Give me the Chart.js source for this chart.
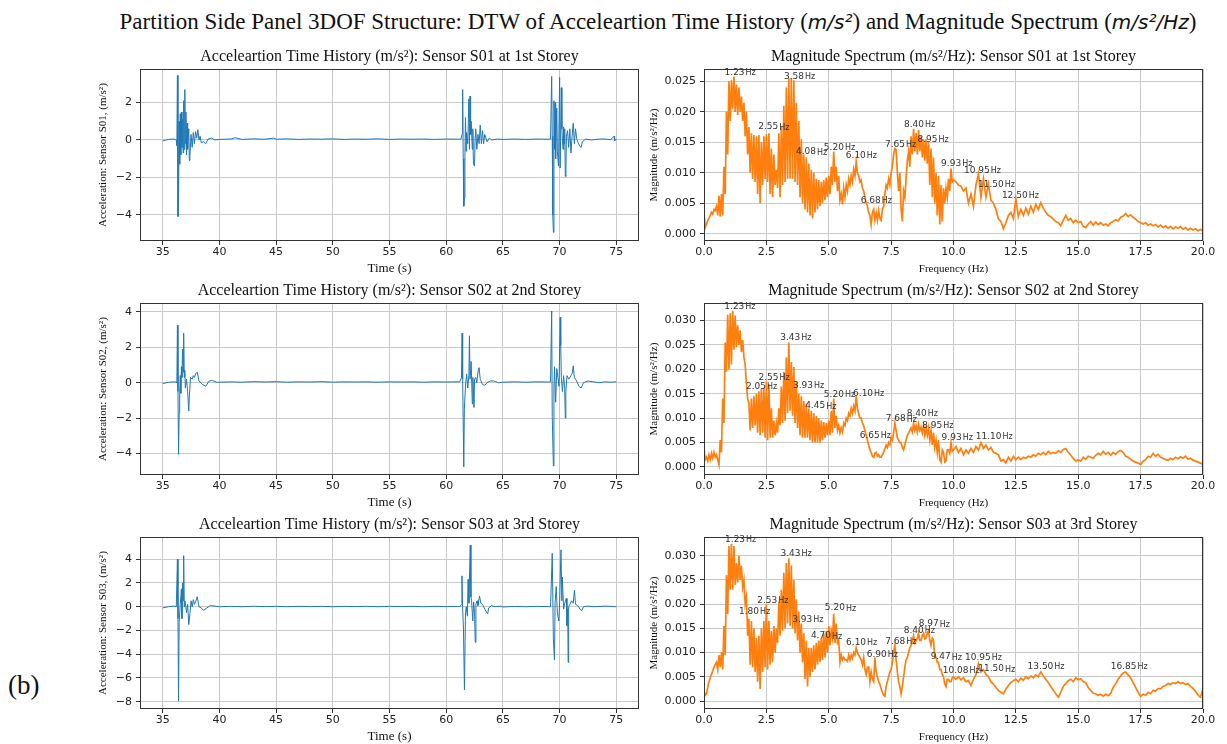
<!DOCTYPE html>
<html>
<head>
<meta charset="utf-8">
<title>Partition Side Panel 3DOF Structure</title>
<script src="https://cdn.jsdelivr.net/npm/chart.js@4.4.1/dist/chart.umd.min.js"></script>
<style>
  body { margin: 0; width: 1227px; height: 744px; background: #fff; position: relative; overflow: hidden; }
  canvas { position: absolute; }
  #suptitle { position: absolute; left: 0; top: 8px; width: 1316px; text-align: center; white-space: nowrap;
    font: 23px "Liberation Serif", serif; color: #111; line-height: 28px; }
  #suptitle i { font-family: "DejaVu Sans", sans-serif; font-size: 20px; }
  #tag { position: absolute; left: 8px; top: 670px; font: 27px "Liberation Serif", serif; color: #111; }
</style>
</head>
<body>
<div id="suptitle">Partition Side Panel 3DOF Structure: DTW of Acceleartion Time History (<i>m/s²</i>) and Magnitude Spectrum (<i>m/s²/Hz</i>)</div>
<div id="tag">(b)</div>
<script>
// 🔹 Tick labels
const timeTicks = [35, 40, 45, 50, 55, 60, 65, 70, 75];
const freqTicks = [0, 2.5, 5, 7.5, 10, 12.5, 15, 17.5, 20];
const accTicksS01 = [-4, -2, 0, 2];
const accTicksS02 = [-4, -2, 0, 2, 4];
const accTicksS03 = [-8, -6, -4, -2, 0, 2, 4];
const magTicksS01 = [0, 0.005, 0.01, 0.015, 0.02, 0.025];
const magTicksS02 = [0, 0.005, 0.01, 0.015, 0.02, 0.025, 0.03];
const magTicksS03 = [0, 0.005, 0.01, 0.015, 0.02, 0.025, 0.03];

// 🔹 Acceleration time history [time (s), acceleration (m/s²)]
const accS01 = [
  [35.0,-0.05],[35.5,0.03],[36.0,0.05],[36.2,0.0],[36.25,-0.3],[36.3,3.45],[36.35,-4.1],[36.4,-3.4],[36.45,1.0],[36.5,-1.3],
  [36.55,1.4],[36.6,-0.8],[36.65,1.5],[36.7,-0.4],[36.75,1.1],[36.8,-0.7],[36.85,2.1],[36.9,-0.5],[36.95,2.7],[37.0,-0.2],
  [37.05,1.5],[37.1,-0.8],[37.15,0.9],[37.2,-0.5],[37.3,0.6],[37.35,-1.1],[37.4,-0.9],[37.5,0.3],[37.6,-0.4],[37.7,0.4],
  [37.8,-0.2],[37.9,0.45],[38.0,0.1],[38.1,0.55],[38.2,0.0],[38.3,0.2],[38.4,-0.15],[38.6,-0.1],[38.8,-0.2],[39.0,0.05],
  [39.3,0.1],[39.6,0.0],[40.0,0.03],[41.0,0.05],[41.4,0.12],[42.0,0.03],[43.0,0.06],[44.0,0.04],[44.8,0.1],[45.0,0.04],
  [46.0,0.06],[47.0,0.03],[48.0,0.05],[49.0,0.04],[50.0,0.06],[51.0,0.03],[52.0,0.05],[53.0,0.04],[54.0,0.06],[55.0,0.03],
  [56.0,0.05],[57.0,0.04],[58.0,0.05],[59.0,0.03],[60.0,0.05],[61.0,0.04],[61.3,0.05],
  [61.4,0.3],[61.45,2.7],[61.5,-1.0],[61.55,-3.55],[61.6,-3.1],[61.65,-0.9],[61.7,1.2],[61.75,-0.6],[61.8,0.4],[61.9,-0.2],
  [62.0,2.2],[62.05,-0.5],[62.1,2.35],[62.15,0.3],[62.2,1.0],[62.3,-0.5],[62.35,0.6],[62.4,-1.3],[62.5,-1.4],[62.55,0.2],
  [62.6,0.6],[62.7,-0.5],[62.8,0.3],[62.9,-0.2],[63.0,0.8],[63.1,-0.2],[63.2,0.5],[63.3,-0.2],[63.4,0.3],[63.6,-0.1],
  [63.8,0.1],[64.0,0.0],[64.5,0.05],[65.0,0.03],[66.0,0.05],[67.0,0.03],[68.0,0.05],[69.0,0.04],[69.2,0.05],
  [69.3,3.4],[69.35,0.2],[69.4,-4.0],[69.45,-4.95],[69.5,2.1],[69.55,-0.5],[69.6,2.0],[69.65,-1.0],[69.75,1.7],[69.8,-0.6],
  [69.9,-1.4],[70.0,3.35],[70.05,-1.5],[70.15,2.8],[70.2,0.6],[70.3,-0.5],[70.35,0.7],[70.4,-0.2],[70.45,0.6],[70.5,-1.9],
  [70.55,-1.95],[70.6,0.2],[70.7,0.5],[70.8,-0.4],[70.9,0.6],[71.0,-0.7],[71.1,0.2],[71.2,0.9],[71.3,-0.2],[71.4,0.6],
  [71.5,0.1],[71.6,-0.1],[71.8,-0.35],[71.9,-0.4],[72.0,-0.1],[72.3,0.05],[72.8,0.0],[73.5,0.05],[74.0,0.05],[74.5,0.02],
  [74.8,0.2],[74.85,-0.05],[75.0,0.05]
];
const accS02 = [
  [35.0,-0.05],[35.5,0.02],[36.0,0.05],[36.2,0.03],[36.25,0.0],[36.3,3.25],[36.35,-0.5],[36.4,-4.05],[36.45,-1.7],[36.5,-0.6],
  [36.55,0.4],[36.6,-0.6],[36.65,0.9],[36.7,0.3],[36.75,1.9],[36.8,0.6],[36.85,2.8],[36.9,0.3],[36.95,0.7],[37.0,-0.3],
  [37.1,0.2],[37.2,-0.5],[37.3,-1.6],[37.35,-0.8],[37.45,0.3],[37.6,0.2],[37.7,0.4],[37.8,0.3],[37.9,0.5],[38.05,0.6],
  [38.2,0.1],[38.5,-0.1],[38.8,-0.2],[39.1,0.1],[39.4,0.12],[39.8,0.02],[40.0,0.03],[41.0,0.05],[42.0,0.03],[43.0,0.06],
  [44.0,0.04],[45.0,0.06],[46.0,0.03],[47.0,0.05],[48.0,0.04],[49.0,0.06],[50.0,0.03],[51.0,0.05],[52.0,0.04],[53.0,0.05],
  [54.0,0.03],[55.0,0.05],[56.0,0.04],[57.0,0.05],[58.0,0.03],[59.0,0.05],[60.0,0.04],[61.0,0.05],[61.2,0.05],
  [61.35,0.3],[61.4,2.8],[61.45,0.2],[61.55,-4.75],[61.6,-1.5],[61.7,-0.2],[61.8,0.5],[61.9,-0.3],[62.0,0.4],[62.05,2.65],
  [62.1,0.2],[62.2,1.2],[62.3,-1.2],[62.35,0.3],[62.45,-1.4],[62.5,0.2],[62.6,0.3],[62.7,0.0],[62.8,0.6],[62.9,0.85],
  [63.0,0.2],[63.2,-0.1],[63.4,-0.15],[63.6,0.0],[63.9,0.1],[64.2,0.1],[64.6,0.0],[65.0,0.03],[66.0,0.05],[67.0,0.03],
  [68.0,0.05],[69.0,0.04],[69.2,0.05],
  [69.3,4.05],[69.35,-1.9],[69.45,-4.7],[69.5,-0.3],[69.55,0.9],[69.65,-1.1],[69.75,0.8],[69.85,0.3],[69.95,-0.2],[70.05,3.7],
  [70.1,2.1],[70.15,0.3],[70.25,-0.5],[70.35,0.4],[70.45,-0.3],[70.5,-2.0],[70.55,-0.5],[70.65,0.4],[70.8,0.2],[71.0,0.4],
  [71.1,0.5],[71.2,0.95],[71.3,0.3],[71.5,0.1],[71.7,-0.2],[71.9,-0.3],[72.1,0.0],[72.5,0.1],[73.0,0.05],[73.5,0.0],
  [74.0,0.05],[74.5,0.03],[75.0,0.05]
];
const accS03 = [
  [35.0,-0.1],[35.5,0.0],[36.0,0.05],[36.2,0.0],[36.3,4.0],[36.35,-1.0],[36.4,-7.95],[36.45,-1.3],[36.55,0.2],[36.65,1.5],
  [36.7,-1.0],[36.75,2.0],[36.8,0.5],[36.85,4.3],[36.9,0.0],[36.95,0.5],[37.0,0.3],[37.1,-0.5],[37.2,0.2],[37.3,-1.5],
  [37.4,-0.6],[37.5,0.5],[37.6,0.0],[37.7,0.6],[37.8,0.2],[37.9,0.4],[38.05,0.85],[38.2,0.0],[38.4,-0.1],[38.6,-0.3],
  [38.9,-0.1],[39.2,0.1],[39.6,0.05],[40.0,0.0],[41.0,0.03],[42.0,0.0],[43.0,0.04],[44.0,0.01],[45.0,0.03],[46.0,0.0],
  [47.0,0.03],[48.0,0.01],[49.0,0.03],[50.0,0.0],[51.0,0.03],[52.0,0.01],[53.0,0.03],[54.0,0.0],[55.0,0.03],[56.0,0.01],
  [57.0,0.03],[58.0,0.0],[59.0,0.03],[60.0,0.01],[61.0,0.02],[61.2,0.0],
  [61.35,0.2],[61.39,2.6],[61.45,-0.2],[61.52,-1.8],[61.61,-7.0],[61.7,-0.5],[61.77,0.0],[61.87,-0.8],[61.93,2.3],[62.0,0.3],
  [62.12,5.2],[62.18,0.8],[62.24,0.5],[62.34,-1.2],[62.42,0.4],[62.5,-0.5],[62.56,-3.0],[62.62,0.2],[62.72,0.5],[62.8,0.1],
  [62.94,0.9],[63.05,0.3],[63.2,0.2],[63.4,-0.2],[63.66,-0.6],[63.75,-0.1],[64.0,0.1],[64.3,0.0],[64.8,0.05],[65.0,-0.02],
  [66.0,0.02],[67.0,0.0],[68.0,0.03],[69.0,0.01],[69.2,0.0],
  [69.35,4.5],[69.45,-2.8],[69.55,-4.5],[69.6,0.3],[69.7,1.7],[69.8,-0.5],[69.93,-1.2],[70.0,0.3],[70.12,4.8],[70.2,0.5],
  [70.24,2.5],[70.35,-0.2],[70.45,0.3],[70.59,0.7],[70.65,-1.6],[70.72,-0.2],[70.75,-4.7],[70.8,0.0],[70.95,0.3],[71.06,0.5],
  [71.2,0.3],[71.31,1.4],[71.4,0.2],[71.6,0.1],[71.8,-0.2],[71.94,-0.35],[72.1,0.0],[72.5,0.05],[73.0,0.0],[74.0,0.05],
  [75.0,0.0]
];

// 🔹 Magnitude spectrum, frequency grid (Hz): 0.05 Hz steps to 10 Hz, then 0.1 Hz
const freqHz = [
  0.00,0.05,0.10,0.15,0.20,0.25,0.30,0.35,0.40,0.45,0.50,0.55,0.60,0.65,0.70,0.75,0.80,0.85,0.90,0.95,
  1.00,1.05,1.10,1.15,1.20,1.25,1.30,1.35,1.40,1.45,1.50,1.55,1.60,1.65,1.70,1.75,1.80,1.85,1.90,1.95,
  2.00,2.05,2.10,2.15,2.20,2.25,2.30,2.35,2.40,2.45,2.50,2.55,2.60,2.65,2.70,2.75,2.80,2.85,2.90,2.95,
  3.00,3.05,3.10,3.15,3.20,3.25,3.30,3.35,3.40,3.45,3.50,3.55,3.60,3.65,3.70,3.75,3.80,3.85,3.90,3.95,
  4.00,4.05,4.10,4.15,4.20,4.25,4.30,4.35,4.40,4.45,4.50,4.55,4.60,4.65,4.70,4.75,4.80,4.85,4.90,4.95,
  5.00,5.05,5.10,5.15,5.20,5.25,5.30,5.35,5.40,5.45,5.50,5.55,5.60,5.65,5.70,5.75,5.80,5.85,5.90,5.95,
  6.00,6.05,6.10,6.15,6.20,6.25,6.30,6.35,6.40,6.45,6.50,6.55,6.60,6.65,6.70,6.75,6.80,6.85,6.90,6.95,
  7.00,7.05,7.10,7.15,7.20,7.25,7.30,7.35,7.40,7.45,7.50,7.55,7.60,7.65,7.70,7.75,7.80,7.85,7.90,7.95,
  8.00,8.05,8.10,8.15,8.20,8.25,8.30,8.35,8.40,8.45,8.50,8.55,8.60,8.65,8.70,8.75,8.80,8.85,8.90,8.95,
  9.00,9.05,9.10,9.15,9.20,9.25,9.30,9.35,9.40,9.45,9.50,9.55,9.60,9.65,9.70,9.75,9.80,9.85,9.90,9.95,
  10.0,10.1,10.2,10.3,10.4,10.5,10.6,10.7,10.8,10.9,
  11.0,11.1,11.2,11.3,11.4,11.5,11.6,11.7,11.8,11.9,
  12.0,12.1,12.2,12.3,12.4,12.5,12.6,12.7,12.8,12.9,
  13.0,13.1,13.2,13.3,13.4,13.5,13.6,13.7,13.8,13.9,
  14.0,14.1,14.2,14.3,14.4,14.5,14.6,14.7,14.8,14.9,
  15.0,15.1,15.2,15.3,15.4,15.5,15.6,15.7,15.8,15.9,
  16.0,16.1,16.2,16.3,16.4,16.5,16.6,16.7,16.8,16.9,
  17.0,17.1,17.2,17.3,17.4,17.5,17.6,17.7,17.8,17.9,
  18.0,18.1,18.2,18.3,18.4,18.5,18.6,18.7,18.8,18.9,
  19.0,19.1,19.2,19.3,19.4,19.5,19.6,19.7,19.8,19.9,
  20.0
];
const specS01 = [
  0.0035,0.0010,0.0015,0.0022,0.0025,0.0030,0.0035,0.0032,0.0040,0.0038,0.0045,0.0030,0.0062,0.0028,0.0065,0.0030,0.0110,0.0065,0.0200,0.0130,
  0.0250,0.0185,0.0252,0.0205,0.0258,0.0200,0.0245,0.0195,0.0240,0.0200,0.0225,0.0185,0.0215,0.0160,0.0200,0.0130,0.0175,0.0100,0.0165,0.0090,
  0.0162,0.0085,0.0160,0.0065,0.0162,0.0050,0.0150,0.0080,0.0160,0.0090,0.0163,0.0085,0.0165,0.0065,0.0140,0.0060,0.0130,0.0080,0.0105,0.0075,
  0.0165,0.0060,0.0175,0.0080,0.0210,0.0085,0.0240,0.0090,0.0255,0.0090,0.0255,0.0090,0.0252,0.0085,0.0215,0.0080,0.0185,0.0060,0.0155,0.0050,
  0.0130,0.0040,0.0125,0.0035,0.0115,0.0030,0.0105,0.0025,0.0100,0.0035,0.0090,0.0040,0.0088,0.0045,0.0085,0.0050,0.0088,0.0055,0.0092,0.0060,
  0.0095,0.0065,0.0110,0.0080,0.0135,0.0085,0.0110,0.0070,0.0095,0.0055,0.0065,0.0048,0.0075,0.0060,0.0080,0.0070,0.0090,0.0080,0.0095,0.0085,
  0.0105,0.0095,0.0118,0.0100,0.0095,0.0085,0.0088,0.0075,0.0070,0.0060,0.0050,0.0045,0.0035,0.0030,0.0015,0.0035,0.0040,0.0022,0.0035,0.0022,
  0.0038,0.0025,0.0022,0.0040,0.0045,0.0065,0.0080,0.0075,0.0090,0.0080,0.0100,0.0110,0.0130,0.0140,0.0138,0.0100,0.0070,0.0100,0.0040,0.0020,
  0.0070,0.0060,0.0090,0.0120,0.0135,0.0110,0.0160,0.0130,0.0172,0.0135,0.0165,0.0130,0.0170,0.0135,0.0160,0.0125,0.0155,0.0120,0.0155,0.0115,
  0.0150,0.0080,0.0140,0.0060,0.0125,0.0050,0.0100,0.0030,0.0095,0.0015,0.0080,0.0020,0.0075,0.0050,0.0075,0.0060,0.0090,0.0070,0.0107,0.0085,
  0.0088,0.0085,0.0080,0.0078,0.0070,0.0075,0.0050,0.0065,0.0045,0.0080,
  0.0098,0.0060,0.0090,0.0060,0.0082,0.0055,0.0050,0.0040,0.0024,0.0020,
  0.0008,0.0018,0.0030,0.0035,0.0025,0.0057,0.0028,0.0040,0.0030,0.0042,
  0.0032,0.0045,0.0035,0.0048,0.0040,0.0051,0.0042,0.0035,0.0030,0.0028,
  0.0024,0.0020,0.0018,0.0013,0.0022,0.0030,0.0022,0.0025,0.0018,0.0022,
  0.0018,0.0020,0.0012,0.0010,0.0016,0.0020,0.0014,0.0019,0.0015,0.0018,
  0.0014,0.0016,0.0013,0.0018,0.0020,0.0023,0.0021,0.0027,0.0029,0.0033,
  0.0028,0.0031,0.0027,0.0024,0.0020,0.0018,0.0016,0.0018,0.0014,0.0016,
  0.0013,0.0015,0.0011,0.0014,0.0010,0.0013,0.0009,0.0012,0.0008,0.0011,
  0.0009,0.0012,0.0007,0.0010,0.0006,0.0009,0.0006,0.0008,0.0005,0.0007,
  0.0005
];
const specS02 = [
  0.0040,0.0015,0.0020,0.0012,0.0025,0.0015,0.0028,0.0018,0.0030,0.0020,0.0025,0.0015,0.0005,0.0055,0.0030,0.0140,0.0090,0.0255,0.0195,0.0312,
  0.0200,0.0315,0.0210,0.0320,0.0240,0.0310,0.0245,0.0290,0.0250,0.0280,0.0235,0.0260,0.0225,0.0210,0.0170,0.0140,0.0130,0.0075,0.0140,0.0080,
  0.0145,0.0085,0.0150,0.0070,0.0155,0.0065,0.0160,0.0070,0.0160,0.0060,0.0175,0.0055,0.0170,0.0060,0.0120,0.0060,0.0095,0.0065,0.0090,0.0070,
  0.0120,0.0085,0.0165,0.0090,0.0195,0.0095,0.0225,0.0110,0.0255,0.0115,0.0215,0.0105,0.0205,0.0090,0.0175,0.0080,0.0150,0.0065,0.0145,0.0060,
  0.0135,0.0060,0.0130,0.0060,0.0120,0.0055,0.0115,0.0050,0.0110,0.0050,0.0105,0.0050,0.0100,0.0050,0.0095,0.0055,0.0092,0.0060,0.0090,0.0065,
  0.0095,0.0065,0.0115,0.0070,0.0140,0.0080,0.0105,0.0075,0.0085,0.0070,0.0080,0.0072,0.0090,0.0085,0.0100,0.0095,0.0110,0.0105,0.0120,0.0110,
  0.0125,0.0115,0.0145,0.0120,0.0110,0.0100,0.0100,0.0090,0.0085,0.0075,0.0065,0.0055,0.0045,0.0035,0.0030,0.0022,0.0020,0.0028,0.0030,0.0022,
  0.0025,0.0020,0.0020,0.0025,0.0030,0.0038,0.0045,0.0040,0.0050,0.0045,0.0060,0.0055,0.0070,0.0090,0.0075,0.0060,0.0055,0.0050,0.0050,0.0040,
  0.0035,0.0045,0.0055,0.0065,0.0070,0.0075,0.0080,0.0072,0.0090,0.0075,0.0085,0.0072,0.0088,0.0075,0.0082,0.0070,0.0085,0.0065,0.0080,0.0065,
  0.0080,0.0055,0.0075,0.0045,0.0070,0.0040,0.0055,0.0030,0.0055,0.0015,0.0010,0.0035,0.0030,0.0010,0.0012,0.0035,0.0035,0.0028,0.0050,0.0032,
  0.0035,0.0042,0.0030,0.0038,0.0025,0.0035,0.0028,0.0038,0.0030,0.0042,
  0.0035,0.0050,0.0038,0.0045,0.0035,0.0040,0.0030,0.0028,0.0025,0.0012,
  0.0015,0.0008,0.0020,0.0012,0.0022,0.0015,0.0020,0.0015,0.0020,0.0018,
  0.0022,0.0020,0.0025,0.0022,0.0028,0.0025,0.0030,0.0025,0.0032,0.0027,
  0.0030,0.0028,0.0033,0.0030,0.0036,0.0038,0.0030,0.0024,0.0018,0.0012,
  0.0015,0.0012,0.0020,0.0016,0.0022,0.0020,0.0018,0.0024,0.0028,0.0025,
  0.0032,0.0026,0.0030,0.0024,0.0030,0.0026,0.0032,0.0034,0.0030,0.0022,
  0.0020,0.0016,0.0012,0.0010,0.0008,0.0005,0.0012,0.0015,0.0022,0.0020,
  0.0028,0.0022,0.0026,0.0020,0.0018,0.0015,0.0014,0.0018,0.0015,0.0020,
  0.0017,0.0021,0.0018,0.0022,0.0016,0.0018,0.0014,0.0012,0.0010,0.0008,
  0.0005
];
const specS03 = [
  0.0020,0.0012,0.0015,0.0028,0.0040,0.0048,0.0055,0.0062,0.0070,0.0075,0.0080,0.0065,0.0095,0.0070,0.0100,0.0065,0.0155,0.0095,0.0260,0.0180,
  0.0320,0.0230,0.0325,0.0230,0.0320,0.0240,0.0285,0.0245,0.0300,0.0250,0.0280,0.0235,0.0250,0.0200,0.0215,0.0135,0.0170,0.0075,0.0165,0.0070,
  0.0150,0.0060,0.0130,0.0040,0.0135,0.0025,0.0150,0.0060,0.0165,0.0070,0.0200,0.0065,0.0165,0.0075,0.0145,0.0080,0.0155,0.0100,0.0150,0.0120,
  0.0205,0.0135,0.0230,0.0145,0.0265,0.0150,0.0285,0.0160,0.0295,0.0155,0.0280,0.0150,0.0250,0.0140,0.0210,0.0125,0.0185,0.0100,0.0160,0.0080,
  0.0140,0.0045,0.0125,0.0030,0.0110,0.0050,0.0110,0.0060,0.0115,0.0065,0.0120,0.0075,0.0125,0.0080,0.0130,0.0085,0.0140,0.0090,0.0145,0.0100,
  0.0155,0.0115,0.0145,0.0130,0.0180,0.0120,0.0160,0.0120,0.0125,0.0080,0.0095,0.0085,0.0090,0.0085,0.0085,0.0082,0.0095,0.0085,0.0095,0.0088,
  0.0100,0.0095,0.0110,0.0100,0.0095,0.0090,0.0085,0.0075,0.0090,0.0065,0.0055,0.0070,0.0070,0.0040,0.0060,0.0045,0.0040,0.0090,0.0060,0.0050,
  0.0040,0.0035,0.0025,0.0018,0.0012,0.0010,0.0030,0.0040,0.0050,0.0060,0.0065,0.0080,0.0100,0.0115,0.0085,0.0060,0.0040,0.0030,0.0015,0.0030,
  0.0050,0.0070,0.0085,0.0090,0.0100,0.0110,0.0115,0.0125,0.0135,0.0120,0.0125,0.0130,0.0140,0.0125,0.0125,0.0135,0.0140,0.0128,0.0130,0.0140,
  0.0145,0.0125,0.0115,0.0130,0.0125,0.0090,0.0090,0.0080,0.0080,0.0065,0.0065,0.0055,0.0050,0.0035,0.0030,0.0045,0.0045,0.0040,0.0040,0.0048,
  0.0050,0.0045,0.0050,0.0044,0.0048,0.0040,0.0042,0.0032,0.0045,0.0055,
  0.0077,0.0060,0.0065,0.0055,0.0050,0.0040,0.0035,0.0028,0.0022,0.0018,
  0.0015,0.0025,0.0032,0.0038,0.0042,0.0045,0.0040,0.0047,0.0043,0.0050,
  0.0046,0.0052,0.0048,0.0054,0.0050,0.0060,0.0052,0.0045,0.0038,0.0030,
  0.0022,0.0015,0.0008,0.0018,0.0030,0.0036,0.0042,0.0045,0.0040,0.0048,
  0.0044,0.0046,0.0040,0.0038,0.0028,0.0022,0.0016,0.0015,0.0012,0.0014,
  0.0010,0.0014,0.0011,0.0016,0.0028,0.0036,0.0045,0.0052,0.0058,0.0060,
  0.0054,0.0048,0.0038,0.0028,0.0018,0.0010,0.0014,0.0012,0.0018,0.0015,
  0.0022,0.0020,0.0026,0.0025,0.0030,0.0032,0.0036,0.0034,0.0038,0.0036,
  0.0040,0.0036,0.0038,0.0034,0.0036,0.0030,0.0026,0.0020,0.0012,0.0008,
  0.0026
];

// 🔹 Peak annotations [label, frequency, magnitude] where each text sits
const peaksS01 = [
  ['1.23',1.45,0.0265],['3.58',3.83,0.0258],['2.55',2.80,0.0175],['4.08',4.31,0.0134],['5.20',5.43,0.0141],
  ['6.10',6.31,0.0128],['6.68',6.91,0.0055],['7.65',7.88,0.0146],['8.40',8.64,0.0179],['8.95',9.18,0.0154],
  ['9.93',10.13,0.0115],['10.95',11.16,0.0104],['11.50',11.72,0.0081],['12.50',12.68,0.0063]
];
const peaksS02 = [
  ['1.23',1.44,0.0329],['3.43',3.68,0.0265],['2.55',2.81,0.0184],['2.05',2.31,0.0165],['3.93',4.19,0.0167],
  ['4.45',4.68,0.0125],['5.20',5.43,0.0148],['6.10',6.60,0.0151],['6.65',6.87,0.0064],['7.68',7.91,0.0098],
  ['8.40',8.75,0.0109],['8.95',9.37,0.0085],['9.93',10.15,0.0061],['11.10',11.63,0.0062]
];
const peaksS03 = [
  ['1.23',1.47,0.0334],['3.43',3.69,0.0305],['2.53',2.76,0.0208],['1.80',2.03,0.0185],['3.93',4.16,0.0168],
  ['4.70',4.91,0.0134],['5.20',5.47,0.0192],['6.10',6.32,0.0121],['6.90',7.15,0.0096],['7.68',7.89,0.0123],
  ['8.40',8.63,0.0145],['8.97',9.23,0.0159],['9.47',9.71,0.0091],['10.95',11.20,0.0090],['10.08',10.31,0.0063],
  ['11.50',11.73,0.0066],['13.50',13.71,0.0072],['16.85',17.04,0.0072]
];

const SERIF = '"Liberation Serif", "Times New Roman", serif';
const SANS = '"DejaVu Sans", sans-serif';
const minus = (s) => s.replace('-', '\u2212');

// 🔹 Frame round the plot area (matplotlib spines)
const framePlugin = {
  id: 'frame',
  afterDatasetsDraw(chart) {
    const { ctx, chartArea: a } = chart;
    ctx.save();
    ctx.strokeStyle = '#333';
    ctx.lineWidth = 1;
    ctx.strokeRect(Math.round(a.left) + 0.5, Math.round(a.top) + 0.5,
      Math.round(a.right - a.left) - 1, Math.round(a.bottom - a.top) - 1);
    ctx.restore();
  }
};

// 🔹 Peak labels "1.23Hz"
const peakPlugin = {
  id: 'peaks',
  afterDatasetsDraw(chart, args, opts) {
    if (!opts.items) return;
    const { ctx, scales: { x, y } } = chart;
    ctx.save();
    ctx.fillStyle = '#333';
    ctx.textBaseline = 'middle';
    ctx.textAlign = 'left';
    for (const [num, f, m] of opts.items) {
      ctx.font = '9px ' + SANS;
      const w1 = ctx.measureText(num).width;
      ctx.font = '8px ' + SANS;
      const w2 = ctx.measureText('Hz').width;
      const px = x.getPixelForValue(f);
      const py = y.getPixelForValue(m);
      const sx = px - (w1 + 1 + w2) / 2;
      ctx.font = '9px ' + SANS;
      ctx.fillText(num, sx, py);
      ctx.font = '8px ' + SANS;
      ctx.fillText('Hz', sx + w1 + 1, py + 0.5);
    }
    ctx.restore();
  }
};

const panels = [
  { left: 90, top: 44, kind: 'acc', sensor: 'S01', storey: '1st', data: accS01, yMin: -5.41, yMax: 3.79, yTicks: accTicksS01 },
  { left: 640, top: 44, kind: 'mag', sensor: 'S01', storey: '1st', data: specS01, yMin: -0.0012, yMax: 0.0270, yTicks: magTicksS01, peaks: peaksS01 },
  { left: 90, top: 278, kind: 'acc', sensor: 'S02', storey: '2nd', data: accS02, yMin: -5.21, yMax: 4.49, yTicks: accTicksS02 },
  { left: 640, top: 278, kind: 'mag', sensor: 'S02', storey: '2nd', data: specS02, yMin: -0.00164, yMax: 0.03355, yTicks: magTicksS02, peaks: peaksS02 },
  { left: 90, top: 512, kind: 'acc', sensor: 'S03', storey: '3rd', data: accS03, yMin: -8.62, yMax: 5.86, yTicks: accTicksS03 },
  { left: 640, top: 512, kind: 'mag', sensor: 'S03', storey: '3rd', data: specS03, yMin: -0.00165, yMax: 0.03384, yTicks: magTicksS03, peaks: peaksS03 }
];

function makePanel(p) {
  const isAcc = p.kind === 'acc';
  const w = isAcc ? 565 : 579;
  const h = 232;
  const canvas = document.createElement('canvas');
  canvas.width = w;
  canvas.height = h;
  canvas.style.left = p.left + 'px';
  canvas.style.top = p.top + 'px';
  canvas.style.width = w + 'px';
  canvas.style.height = h + 'px';
  document.body.appendChild(canvas);

  const points = isAcc
    ? p.data.map(([t, a]) => ({ x: t, y: a }))
    : freqHz.map((f, i) => ({ x: f, y: p.data[i] }));
  const xTicks = isAcc ? timeTicks : freqTicks;

  const tickFont = { family: SANS, size: 11 };
  const gridStyle = { color: '#c9c9c9', lineWidth: 1, tickLength: 4, tickColor: '#333' };

  new Chart(canvas.getContext('2d'), {
    type: 'line',
    data: {
      datasets: [{
        data: points,
        borderColor: isAcc ? '#1f77b4' : '#ff7f0e',
        borderWidth: isAcc ? 1 : 1.7,
        pointRadius: 0,
        tension: 0
      }]
    },
    options: {
      responsive: false,
      animation: false,
      layout: { padding: { top: 3, right: 16, bottom: 0, left: 0 } },
      plugins: {
        legend: { display: false },
        tooltip: { enabled: false },
        title: {
          display: true,
          fullSize: false,
          text: isAcc
            ? `Acceleartion Time History (m/s²): Sensor ${p.sensor} at ${p.storey} Storey`
            : `Magnitude Spectrum (m/s²/Hz): Sensor ${p.sensor} at ${p.storey} Storey`,
          font: { family: SERIF, size: 16, weight: 'normal' },
          color: '#111',
          padding: { top: 0, bottom: 3 }
        },
        peaks: { items: p.peaks || null }
      },
      scales: {
        x: {
          type: 'linear',
          min: isAcc ? 33 : 0,
          max: isAcc ? 77 : 20,
          afterBuildTicks: (s) => { s.ticks = xTicks.map((v) => ({ value: v })); },
          afterFit: (s) => { s.height = 35; },
          ticks: {
            autoSkip: false, maxRotation: 0, padding: 1, color: '#222', font: tickFont,
            callback: (v) => (isAcc ? String(v) : v.toFixed(1))
          },
          grid: gridStyle,
          border: { display: false },
          title: {
            display: true,
            text: isAcc ? 'Time (s)' : 'Frequency (Hz)',
            font: { family: SERIF, size: isAcc ? 13 : 11 },
            color: '#111',
            padding: { top: 0, bottom: 0 }
          }
        },
        y: {
          min: p.yMin,
          max: p.yMax,
          afterBuildTicks: (s) => { s.ticks = p.yTicks.map((v) => ({ value: v })); },
          afterFit: (s) => { s.width = isAcc ? 50 : 64; },
          ticks: {
            autoSkip: false, padding: 4, color: '#222', font: tickFont,
            callback: (v) => (isAcc ? minus(String(v)) : v.toFixed(3))
          },
          grid: gridStyle,
          border: { display: false },
          title: {
            display: true,
            text: isAcc ? `Acceleration: Sensor ${p.sensor}, (m/s²)` : 'Magnitude (m/s²/Hz)',
            font: { family: SERIF, size: 11 },
            color: '#111',
            padding: { top: isAcc ? 7 : 8, bottom: 0 }
          }
        }
      }
    },
    plugins: [framePlugin, peakPlugin]
  });
}

panels.forEach(makePanel);
</script>
</body>
</html>
